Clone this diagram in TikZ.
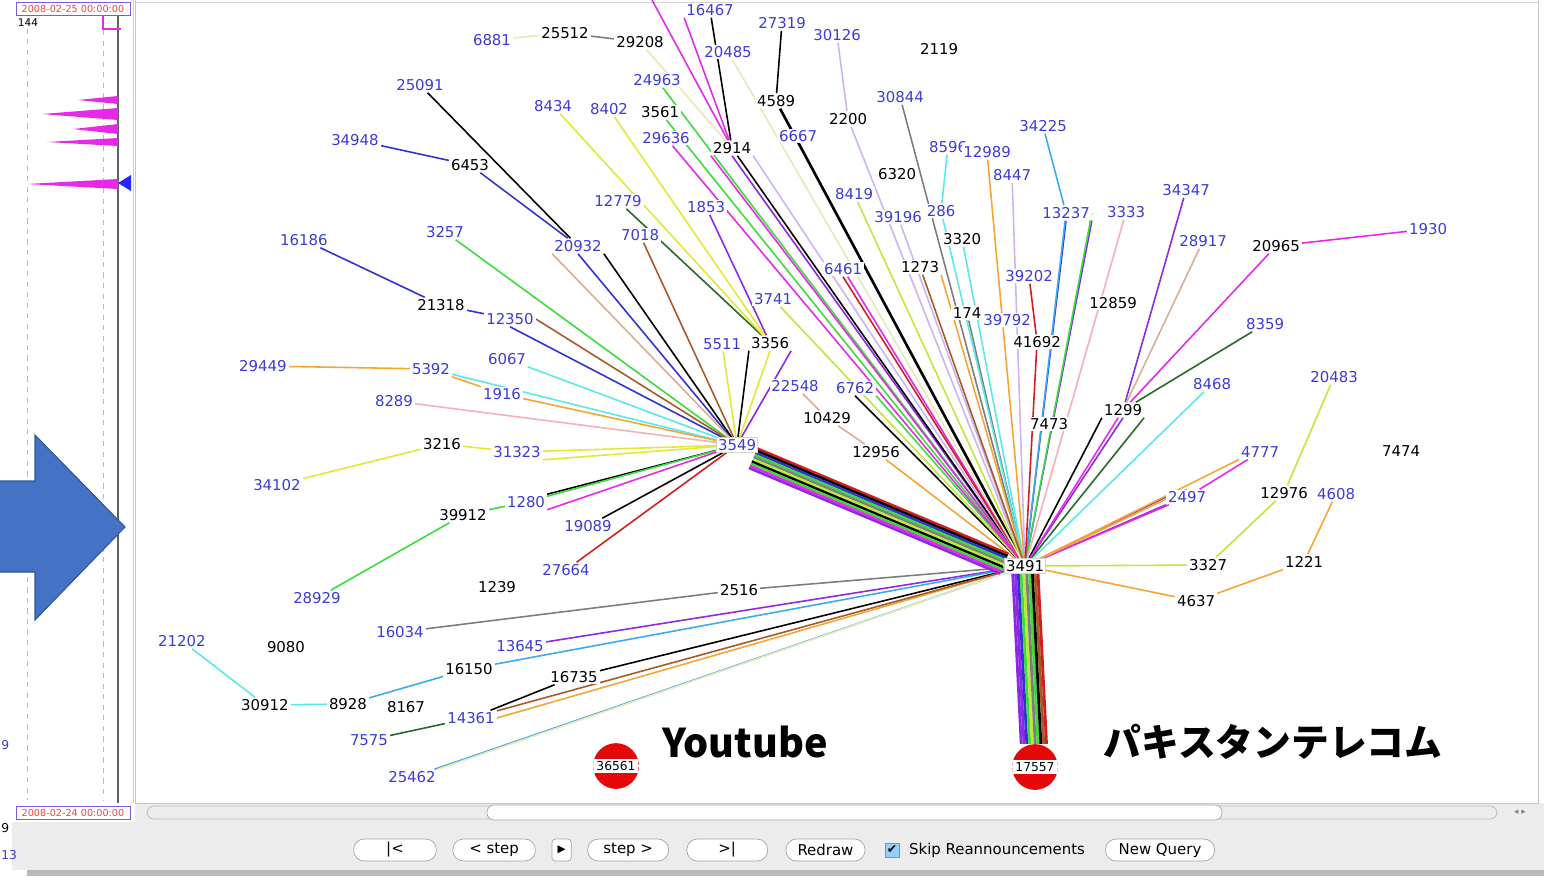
\documentclass[tikz,border=0pt]{standalone}
\usepackage{fontspec}
\setmainfont{DejaVu Sans}
\newfontfamily\jpfont{Noto Sans CJK JP}
\usepackage{tikz}
\usetikzlibrary{positioning}

\definecolor{asblue}{RGB}{60,60,215}
\definecolor{asred}{RGB}{228,8,8}
\definecolor{arrowblue}{RGB}{68,114,196}
\definecolor{datered}{RGB}{235,70,70}
\definecolor{dateframe}{RGB}{120,90,230}
\definecolor{uigray}{RGB}{236,236,236}
\definecolor{lnblue}{RGB}{50,50,210}
\definecolor{lnpurple}{RGB}{140,40,230}
\definecolor{lnmagenta}{RGB}{232,40,232}
\definecolor{lngreen}{RGB}{60,220,60}
\definecolor{lndkgreen}{RGB}{40,105,40}
\definecolor{lnyellow}{RGB}{228,232,50}
\definecolor{lnyg}{RGB}{190,232,60}
\definecolor{lncyan}{RGB}{90,232,232}
\definecolor{lnsky}{RGB}{60,170,240}
\definecolor{lnorange}{RGB}{245,165,50}
\definecolor{lnpink}{RGB}{245,175,185}
\definecolor{lntan}{RGB}{215,175,150}
\definecolor{lnlav}{RGB}{205,180,240}
\definecolor{lnred}{RGB}{210,30,30}
\definecolor{lnbrown}{RGB}{165,90,40}
\definecolor{lngray}{RGB}{125,125,125}
\definecolor{lnfaint}{RGB}{232,232,185}

\newcommand{\asfont}{\fontsize{8.5}{9}\selectfont}
\newcommand{\uifont}{\fontsize{8.5}{9}\selectfont}
\newcommand{\datefont}{\fontsize{5.5}{6}\selectfont}
\newcommand{\fragfont}{\fontsize{7}{7}\selectfont}
\newcommand{\bigfont}{\jpfont\bfseries\fontsize{22.5}{24}\selectfont}
\newcommand{\jpbigfont}{\jpfont\bfseries\fontsize{21.5}{24}\selectfont}

\pgfdeclarelayer{back}
\pgfdeclarelayer{links}
\pgfsetlayers{back,links,main}

\begin{document}
\begin{tikzpicture}[x = 0.02cm, y = -0.02cm,
    asb/.style = { text = asblue, font = \asfont, fill = white, inner sep = 1pt },
    ask/.style = { asb, text = black },
    hub/.style = { ask, draw = gray!35 },
    frag/.style = { font = \fragfont, inner sep = 0pt, anchor = west },
    origin/.style = { circle, fill = asred, minimum size = 26pt, inner sep = 0pt,
      font = {\fontsize{7}{8}\selectfont},
      path picture = { \fill[white] ([yshift = -4pt] path picture bounding box.west)
        rectangle ([yshift = 4pt] path picture bounding box.east); } },
    title/.style = { font = \bigfont },
    button/.style = { draw = gray!70, fill = white, rounded corners = 6pt, font = \uifont,
      minimum height = 12.5pt, inner sep = 1pt },
    datebox/.style = { draw = dateframe, fill = white, text = datered, font = \datefont,
      minimum width = 65pt, minimum height = 7.5pt, inner sep = 0pt },
    strand/.style 2 args = { transform canvas = { xshift = #1, yshift = #2 } },
    drop/.style = { line width = 1.6pt, transform canvas = { xshift = #1 } }
  ]
  \useasboundingbox (0,0) rectangle (1544,876);

  \begin{pgfonlayer}{back}
    \fill[white] (0,0) rectangle (1544,876);
    \fill[uigray] (12,803) rectangle (1544,870);
    \fill[gray!55] (27,870) rectangle (1544,876);
    \fill[white] (12,0) rectangle (135,822);
    \draw[gray!45] (135,0) -- (135,803) -- (1538,803) -- (1538,0);
    \draw[gray!35] (135,2) -- (1538,2);
    \draw[gray!55, dashed] (27,18) -- (27,800);
    \draw[gray!55, dashed] (103,30) -- (103,800);
    \draw[gray!75!black, line width = 0.8pt] (118,15) -- (118,803);
    \draw[gray!40] (133,0) -- (133,803);
    \draw[lnmagenta, line width = 0.8pt] (103,15) -- (103,29) -- (121,29);
    \fill[lnmagenta] (78,100) -- (118,96) -- (118,104) -- cycle;
    \fill[lnmagenta] (42,114) -- (118,108) -- (118,120) -- cycle;
    \fill[lnmagenta] (73,129) -- (118,124) -- (118,134) -- cycle;
    \fill[lnmagenta] (47,142) -- (118,138) -- (118,146) -- cycle;
    \fill[lnmagenta] (27,184) -- (118,179) -- (118,189) -- cycle;
    \fill[blue!85] (118,183) -- (131,175) -- (131,191) -- cycle;
    \node[font = {\fontsize{6}{6}\selectfont}] (lcount) at (28,23) {144};
    \draw[gray!55, rounded corners = 4pt] (147,806) rectangle (1497,819);
    \draw[gray!70, fill = white, rounded corners = 4pt] (487,805) rectangle (1222,820);
    \node[text = gray, font = {\fontsize{5}{5}\selectfont}] (sarrows) at (1520,812) {◂ ▸};
  \end{pgfonlayer}

  \node[frag, text = asblue] (frag9a) at (1,745) {9};
  \node[frag] (frag9b) at (1,828) {9};
  \node[frag, text = asblue] (frag13) at (1,855) {13};
  \node[datebox] (dtop) at (73,9) {2008-02-25 00:00:00};
  \node[datebox] (dbottom) at (73,813) {2008-02-24 00:00:00};

  \node[asb] (as16467) at (710,10) {16467};
  \node[asb] (as27319) at (782,23) {27319};
  \node[asb] (as30126) at (837,35) {30126};
  \node[ask] (as2119) at (939,49) {2119};
  \node[asb] (as6881) at (492,40) {6881};
  \node[ask] (as25512) at (565,33) {25512};
  \node[ask] (as29208) at (640,42) {29208};
  \node[asb] (as20485) at (728,52) {20485};
  \node[asb] (as24963) at (657,80) {24963};
  \node[asb] (as25091) at (420,85) {25091};
  \node[ask] (as4589) at (776,101) {4589};
  \node[asb] (as30844) at (900,97) {30844};
  \node[asb] (as8434) at (553,106) {8434};
  \node[asb] (as8402) at (609,109) {8402};
  \node[ask] (as3561) at (660,112) {3561};
  \node[ask] (as2200) at (848,119) {2200};
  \node[asb] (as34225) at (1043,126) {34225};
  \node[asb] (as34948) at (355,140) {34948};
  \node[ask] (as6453) at (470,165) {6453};
  \node[asb] (as29636) at (666,138) {29636};
  \node[ask] (as2914) at (732,148) {2914};
  \node[asb] (as6667) at (798,136) {6667};
  \node[asb] (as8596) at (948,147) {8596};
  \node[asb] (as12989) at (987,152) {12989};
  \node[asb] (as8447) at (1012,175) {8447};
  \node[ask] (as6320) at (897,174) {6320};
  \node[asb] (as8419) at (854,194) {8419};
  \node[asb] (as34347) at (1186,190) {34347};
  \node[asb] (as12779) at (618,201) {12779};
  \node[asb] (as1853) at (706,207) {1853};
  \node[asb] (as39196) at (898,217) {39196};
  \node[asb] (as286) at (941,211) {286};
  \node[asb] (as13237) at (1066,213) {13237};
  \node[asb] (as3333) at (1126,212) {3333};
  \node[asb] (as1930) at (1428,229) {1930};
  \node[asb] (as3257) at (445,232) {3257};
  \node[asb] (as7018) at (640,235) {7018};
  \node[asb] (as20932) at (578,246) {20932};
  \node[asb] (as16186) at (304,240) {16186};
  \node[ask] (as3320) at (962,239) {3320};
  \node[asb] (as28917) at (1203,241) {28917};
  \node[ask] (as20965) at (1276,246) {20965};
  \node[asb] (as6461) at (843,269) {6461};
  \node[ask] (as1273) at (920,267) {1273};
  \node[asb] (as39202) at (1029,276) {39202};
  \node[ask] (as21318) at (441,305) {21318};
  \node[asb] (as12350) at (510,319) {12350};
  \node[asb] (as3741) at (773,299) {3741};
  \node[ask] (as12859) at (1113,303) {12859};
  \node[ask] (as174) at (967,313) {174};
  \node[asb] (as39792) at (1007,320) {39792};
  \node[asb] (as8359) at (1265,324) {8359};
  \node[asb] (as5511) at (722,344) {5511};
  \node[ask] (as3356) at (770,343) {3356};
  \node[ask] (as41692) at (1037,342) {41692};
  \node[asb] (as6067) at (507,359) {6067};
  \node[asb] (as29449) at (263,366) {29449};
  \node[asb] (as5392) at (431,369) {5392};
  \node[asb] (as20483) at (1334,377) {20483};
  \node[asb] (as22548) at (795,386) {22548};
  \node[asb] (as6762) at (855,388) {6762};
  \node[asb] (as8468) at (1212,384) {8468};
  \node[asb] (as1916) at (502,394) {1916};
  \node[asb] (as8289) at (394,401) {8289};
  \node[ask] (as1299) at (1123,410) {1299};
  \node[ask] (as10429) at (827,418) {10429};
  \node[ask] (as7473) at (1049,424) {7473};
  \node[ask] (as3216) at (442,444) {3216};
  \node[hub, text = asblue] (as3549) at (737,445) {3549};
  \node[asb] (as31323) at (517,452) {31323};
  \node[ask] (as12956) at (876,452) {12956};
  \node[asb] (as4777) at (1260,452) {4777};
  \node[ask] (as7474) at (1401,451) {7474};
  \node[asb] (as34102) at (277,485) {34102};
  \node[asb] (as2497) at (1187,497) {2497};
  \node[ask] (as12976) at (1284,493) {12976};
  \node[asb] (as4608) at (1336,494) {4608};
  \node[asb] (as1280) at (526,502) {1280};
  \node[ask] (as39912) at (463,515) {39912};
  \node[asb] (as19089) at (588,526) {19089};
  \node[hub] (as3491) at (1025,566) {3491};
  \node[ask] (as3327) at (1208,565) {3327};
  \node[ask] (as1221) at (1304,562) {1221};
  \node[asb] (as27664) at (566,570) {27664};
  \node[ask] (as1239) at (497,587) {1239};
  \node[ask] (as2516) at (739,590) {2516};
  \node[asb] (as28929) at (317,598) {28929};
  \node[ask] (as4637) at (1196,601) {4637};
  \node[asb] (as16034) at (400,632) {16034};
  \node[asb] (as21202) at (182,641) {21202};
  \node[ask] (as9080) at (286,647) {9080};
  \node[asb] (as13645) at (520,646) {13645};
  \node[ask] (as16150) at (469,669) {16150};
  \node[ask] (as16735) at (574,677) {16735};
  \node[ask] (as30912) at (265,705) {30912};
  \node[ask] (as8928) at (348,704) {8928};
  \node[ask] (as8167) at (406,707) {8167};
  \node[asb] (as14361) at (471,718) {14361};
  \node[asb] (as7575) at (369,740) {7575};
  \node[asb] (as25462) at (412,777) {25462};
  \node[origin] (as36561) at (616,766) {36561};
  \node[origin] (as17557) at (1035,767) {17557};
  \coordinate (offtop) at (652,0);

  \node[title] (lyoutube) at (745,742) {Youtube};
  \node[title, font = \jpbigfont] (lpktel) at (1273,742) {パキスタンテレコム};

  \begin{pgfonlayer}{links}
    \begin{scope}[line width = 0.9pt]
      \draw[lnblue] (as34948) edge (as6453) (as6453) edge (as20932)
        (as20932.south) edge (as3549) (as16186) edge (as21318)
        (as21318) edge (as12350) (as12350.south) edge (as3549)
        (as13237.south) edge (as3491);
      \draw[lnpurple] (as1853) edge (as3356) (as3356.south east) edge (as3549)
        (as34347) edge (as1299) (as1299.south) edge (as3491)
        (as2914.south) edge (as3491) (as13645) edge (as3491)
        (as13237.south east) edge (as3491) (as2497.west) edge (as3491)
        (as2497.south west) edge (as3491);
      \draw[black] (as25091) edge (as20932) (as20932.south east) edge (as3549)
        (as16467) edge (as2914) (as2914) edge (as3491) (as27319) edge (as4589)
        (as19089) edge (as3549) (as3356.south west) edge (as3549)
        (as1280.north east) edge (as3549) (as16735) edge (as3491)
        (as14361) edge (as16735) (as6762.south) edge (as3491)
        (as1299.south west) edge (as3491);
      \draw[black, line width = 1.5pt] (as4589) -- (as3491);
      \draw[lngray] (as30844) edge (as3491) (as2516) edge (as3491)
        (as16034) edge (as2516) (as174) edge (as3491) (as25512) edge (as29208);
      \draw[lnlav] (as30126) edge (as2200) (as2200) edge (as3491)
        (as8447) edge (as3491) (as39196) edge (as3491)
        (as2914.south east) edge (as3491);
      \draw[lngreen] (as3257) edge (as3549) (as24963) edge (as3491)
        (as3561) edge (as3491) (as39912) edge (as1280) (as28929) edge (as39912)
        (as1280) edge (as3549) (as13237.east) edge (as3491)
        (as6762.south east) edge (as3491);
      \draw[lndkgreen] (as12779) edge (as3356) (as8359) edge (as1299)
        (as7575) edge (as14361) (as1299.south east) edge (as3491);
      \draw[lnyellow] (as8434) edge (as3356) (as8402) edge (as3356)
        (as3216) edge (as31323) (as31323) edge (as3549)
        (as31323.south east) edge (as3549) (as34102) edge (as3216)
        (as5511) edge (as3549) (as3356.south) edge (as3549);
      \draw[lnyg] (as8419) edge (as3491) (as3741) edge (as3491)
        (as20483) edge (as12976) (as12976) edge (as3327) (as3327) edge (as3491);
      \draw[lnmagenta] (as16467.south west) edge (as2914) (offtop) edge (as2914)
        (as29636) edge (as3491) (as6461) edge (as3491) (as20965) edge (as1299)
        (as1930) edge (as20965) (as1299) edge (as3491) (as4777) edge (as2497)
        (as2497) edge (as3491) (as2914.south west) edge (as3491)
        (as1280.south east) edge (as3549);
      \draw[lncyan] (as6067) edge (as3549) (as5392) edge (as3549)
        (as8596) edge (as286) (as286) edge (as3491) (as3320) edge (as3491)
        (as8468) edge (as3491) (as30912) edge (as8928) (as21202) edge (as30912);
      \draw[lnsky] (as34225) edge (as13237) (as13237) edge (as3491)
        (as8928) edge (as16150) (as16150) edge (as3491) (as25462) edge (as3491);
      \draw[lnorange] (as29449) edge (as5392) (as5392.south east) edge (as1916)
        (as1916) edge (as3549) (as12989) edge (as3491)
        (as4777.south west) edge (as3491) (as2497.north) edge (as3491)
        (as4608) edge (as1221) (as1221) edge (as4637) (as4637) edge (as3491)
        (as12956) edge (as3491) (as14361.east) edge (as3491)
        (as1273.south east) edge (as3491);
      \draw[lnpink] (as8289) edge (as3549) (as3333) edge (as3491);
      \draw[lntan] (as20932.south west) edge (as3549) (as28917) edge (as1299)
        (as22548) edge (as10429) (as10429) edge (as12956);
      \draw[lnred] (as27664) edge (as3549) (as6461.south) edge (as3491)
        (as39202) edge (as41692) (as41692) edge (as3491);
      \draw[lnbrown] (as7018) edge (as3549) (as12350.east) edge (as3549)
        (as1273) edge (as3491) (as14361) edge (as3491);
      \draw[lnfaint] (as6881) edge (as25512) (as29208) edge (as2914)
        (as20485) edge (as3491) (as25462.north east) edge (as3491);
    \end{scope}
    \begin{scope}[line width = 1.4pt]
      \draw[lnred, strand = {1.05pt}{2.48pt}] (as3549) -- (as3491);
      \draw[black, strand = {0.53pt}{1.24pt}] (as3549) -- (as3491);
      \draw[lnblue] (as3549) -- (as3491);
      \draw[lngreen, strand = {-0.53pt}{-1.24pt}] (as3549) -- (as3491);
      \draw[lngray, strand = {-1.05pt}{-2.48pt}] (as3549) -- (as3491);
      \draw[lnyg, strand = {-1.58pt}{-3.73pt}] (as3549) -- (as3491);
      \draw[black, strand = {-2.1pt}{-4.97pt}] (as3549) -- (as3491);
      \draw[lngreen, strand = {-2.63pt}{-6.21pt}] (as3549) -- (as3491);
      \draw[lnmagenta, strand = {-3.16pt}{-7.45pt}] (as3549) -- (as3491);
      \draw[lnpurple, strand = {-3.69pt}{-8.69pt}] (as3549) -- (as3491);
    \end{scope}
    \draw[lnpurple, drop = -7.2pt] (as3491) -- (as17557);
    \draw[lnpurple, drop = -5.6pt] (as3491) -- (as17557);
    \draw[lnblue, drop = -4pt] (as3491) -- (as17557);
    \draw[lngreen, drop = -2.4pt] (as3491) -- (as17557);
    \draw[lnyg, drop = -0.8pt] (as3491) -- (as17557);
    \draw[lngray, drop = 0.8pt] (as3491) -- (as17557);
    \draw[lngreen, drop = 2.4pt] (as3491) -- (as17557);
    \draw[black, drop = 4pt] (as3491) -- (as17557);
    \draw[lnbrown, drop = 5.6pt] (as3491) -- (as17557);
    \draw[lnred, drop = 7.2pt] (as3491) -- (as17557);
  \end{pgfonlayer}

  \node[button, minimum width = 47pt] (bfirst) at (395,850) {|<};
  \node[button, minimum width = 47pt, right = 9pt of bfirst] (bback) {< step};
  \node[button, minimum width = 11pt, rounded corners = 2pt, right = 9pt of bback,
    font = {\fontsize{6}{6}\selectfont}] (bplay) {▶};
  \node[button, minimum width = 46pt, right = 9pt of bplay] (bstep) {step >};
  \node[button, minimum width = 46pt, right = 10pt of bstep] (blast) {>|};
  \node[button, minimum width = 45pt, right = 10pt of blast] (bredraw) {Redraw};
  \node[draw = lnblue!60, fill = lnsky!55, minimum size = 8pt, inner sep = 0pt,
    font = {\fontsize{7}{7}\selectfont}, right = 11pt of bredraw] (bcheck) {✔};
  \node[font = \uifont, right = 2pt of bcheck] (lskip) {Skip Reannouncements};
  \node[button, minimum width = 62pt, right = 8pt of lskip] (bquery) {New Query};

  \draw[arrowblue!75!black, fill = arrowblue, line width = 0.6pt]
    (-2,481) -- (35,481) -- (35,435) -- (125,527) -- (35,620) -- (35,572) -- (-2,572) -- cycle;
\end{tikzpicture}
\end{document}
